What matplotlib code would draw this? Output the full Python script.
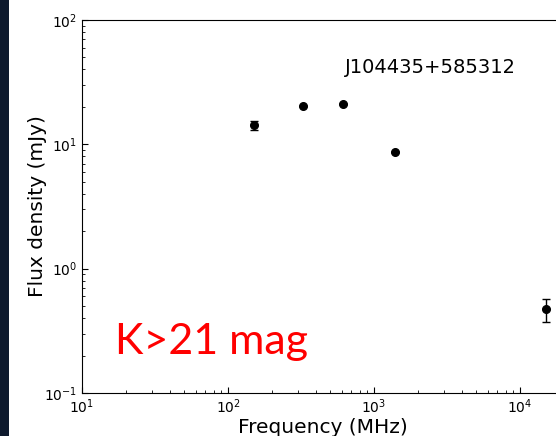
import matplotlib
matplotlib.use('Agg')
import matplotlib.pyplot as plt
import matplotlib.patches as patches

# datos del espectro
freq = [150, 325, 610, 1400, 15000]
flux = [14.3, 20.3, 21.1, 8.7, 0.47]
err = [1.2, 0, 0, 0, 0.1]

nombre = 'J104435+585312'
nota = 'K>21 mag'

fig = plt.figure(figsize=(5.56, 4.36), dpi=100)
W, H = 556., 436.
# el eje sigue un poco mas alla del borde derecho (figura recortada)
ax = fig.add_axes([82/W, 1 - 393/H, (564 - 82)/W, (393 - 20)/H])

ax.errorbar(freq, flux, yerr=err, fmt='o', color='black', ms=5.5,
            capsize=3, elinewidth=1)

ax.set_xscale('log')
ax.set_yscale('log')
ax.set_xlim(10, 2e4)
ax.set_ylim(0.1, 100)

ax.tick_params(which='both', direction='in', labelsize=10)
ax.tick_params(which='major', length=4)
ax.tick_params(which='minor', length=2)

ax.set_xlabel('Frequency (MHz)', fontsize=14.5, labelpad=1)
ax.set_ylabel('Flux density (mJy)', fontsize=14.5, labelpad=-2)

ax.text(0.546, 0.858, nombre, transform=ax.transAxes, fontsize=14)
ax.text(0.069, 0.105, nota, transform=ax.transAxes, fontsize=31,
        color='red', family=['Lato', 'DejaVu Sans'])

# franja oscura a la izquierda
fig.patches.append(patches.Rectangle((0, 0), 9/W, 1, transform=fig.transFigure,
                                     facecolor='#0e1a2e', edgecolor='none'))

fig.savefig('out.png', dpi=100)
